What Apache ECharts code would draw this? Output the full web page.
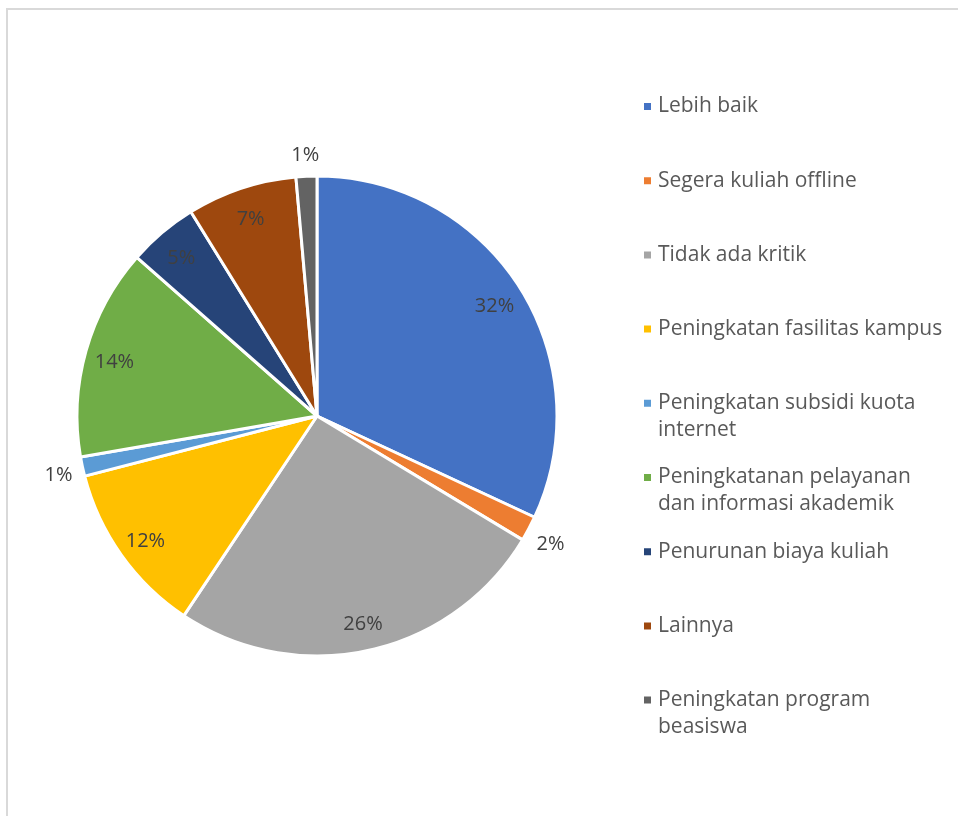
<!DOCTYPE html>
<html>
<head>
<meta charset="utf-8">
<title>Kritik dan saran</title>
<script src="https://cdn.jsdelivr.net/npm/echarts@6/dist/echarts.min.js"></script>
<style>
  html, body { margin: 0; padding: 0; background: #ffffff; }
  #chart { width: 958px; height: 816px; }
</style>
</head>
<body>
<div id="chart"></div>
<script>
// Categories, in clockwise order from 12 o'clock
var categories = [
  'Lebih baik',
  'Segera kuliah offline',
  'Tidak ada kritik',
  'Peningkatan fasilitas kampus',
  'Peningkatan subsidi kuota internet',
  'Peningkatanan pelayanan dan informasi akademik',
  'Penurunan biaya kuliah',
  'Lainnya',
  'Peningkatan program beasiswa'
];

// Share of responses (percent)
var shares = [31.9, 1.7, 25.7, 11.6, 1.3, 14.2, 4.7, 7.4, 1.4];

// Legend text, wrapped the way the legend shows it
var legendLines = [
  ['Lebih baik'],
  ['Segera kuliah offline'],
  ['Tidak ada kritik'],
  ['Peningkatan fasilitas kampus'],
  ['Peningkatan subsidi kuota', 'internet'],
  ['Peningkatanan pelayanan', 'dan informasi akademik'],
  ['Penurunan biaya kuliah'],
  ['Lainnya'],
  ['Peningkatan program', 'beasiswa']
];

var colors = ['#4472C4', '#ED7D31', '#A5A5A5', '#FFC000', '#5B9BD5',
              '#70AD47', '#264478', '#9E480E', '#636363'];

var FONT = '"Open Sans", "Noto Sans", sans-serif';
var LINE = 27;
var CENTER = [317, 416];
var R = 240;
var SMALL = 3; // slices below this share get their label outside the pie

var chart = echarts.init(document.getElementById('chart'), null, { renderer: 'canvas' });

function sliceData(labelFilter) {
  return categories.map(function (name, i) {
    return {
      name: name,
      value: shares[i],
      label: { show: labelFilter(shares[i]) }
    };
  });
}

var labelStyle = {
  position: 'inside',
  formatter: '{d}%',
  color: '#404040',
  fontFamily: FONT,
  fontSize: 20
};

// Every legend entry gets the height of three lines, so the marker always
// sits beside the first line of its text.
var legendData = categories.map(function (name, i) {
  var twoLines = legendLines[i].length > 1;
  return {
    name: name,
    textStyle: { padding: twoLines ? [0, 0, 0, 1] : [LINE, 0, LINE, 1] }
  };
});

var option = {
  backgroundColor: '#ffffff',
  color: colors,
  animation: false,
  graphic: [{
    type: 'rect',
    shape: { x: 7, y: 9, width: 1000, height: 1000 },
    style: { fill: 'none', stroke: '#d9d9d9', lineWidth: 2 },
    silent: true
  }],
  legend: {
    orient: 'vertical',
    left: 642,
    top: 66,
    padding: 0,
    itemWidth: 9,
    itemHeight: 9,
    itemGap: 74.2 - 3 * LINE,
    icon: 'rect',
    selectedMode: false,
    data: legendData,
    formatter: function (name) {
      var lines = legendLines[categories.indexOf(name)];
      // a leading blank line keeps the first text line level with the marker
      return lines.length > 1 ? '\n' + lines.join('\n') : lines[0];
    },
    textStyle: {
      color: '#595959',
      fontFamily: FONT,
      fontSize: 21,
      lineHeight: LINE
    }
  },
  series: [
    {
      name: 'slices',
      type: 'pie',
      center: CENTER,
      radius: [0, R],
      startAngle: 90,
      clockwise: true,
      avoidLabelOverlap: false,
      percentPrecision: 0,
      silent: true,
      itemStyle: { borderColor: '#ffffff', borderWidth: 3 },
      label: { show: false },
      labelLine: { show: false },
      data: sliceData(function () { return false; })
    },
    {
      // inner labels for the larger slices
      name: 'inner-labels',
      type: 'pie',
      center: CENTER,
      radius: [175, R],
      startAngle: 90,
      clockwise: true,
      avoidLabelOverlap: false,
      percentPrecision: 0,
      silent: true,
      itemStyle: { color: 'rgba(0,0,0,0)', borderWidth: 0 },
      label: labelStyle,
      labelLine: { show: false },
      labelLayout: { dy: 3 },
      data: sliceData(function (v) { return v >= SMALL; })
    },
    {
      // outer labels for the thin slices
      name: 'outer-labels',
      type: 'pie',
      center: CENTER,
      radius: [R, 283],
      startAngle: 90,
      clockwise: true,
      avoidLabelOverlap: false,
      percentPrecision: 0,
      silent: true,
      itemStyle: { color: 'rgba(0,0,0,0)', borderWidth: 0 },
      label: labelStyle,
      labelLine: { show: false },
      labelLayout: { dy: 4 },
      data: sliceData(function (v) { return v < SMALL; })
    }
  ]
};

chart.setOption(option);
</script>
</body>
</html>
